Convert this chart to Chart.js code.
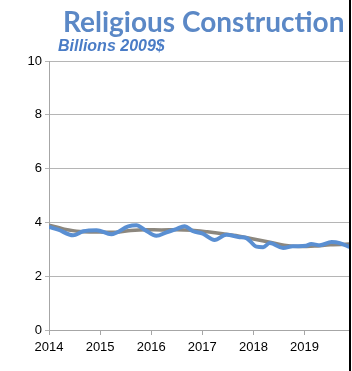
<!DOCTYPE html>
<html>
<head>
<meta charset="utf-8">
<script src="https://cdn.jsdelivr.net/npm/chart.js@4.4.1/dist/chart.umd.min.js"></script>
<style>
  html, body { margin: 0; padding: 0; background: #fff; }
  #wrap { position: relative; width: 352px; height: 371px; overflow: hidden; background: #fff; }
  #c { position: absolute; left: 0; top: 0; }
  .title { position: absolute; left: 63px; top: 4px; font-family: Lato, "Open Sans", sans-serif; font-weight: 700; font-size: 28px; line-height: 34px; color: #5b88c6; white-space: nowrap; }
  .sub { position: absolute; left: 58px; top: 36px; font-family: "Liberation Sans", Arial, sans-serif; font-weight: 700; font-style: italic; font-size: 16px; line-height: 20px; color: #4a7cc6; white-space: nowrap; }
  #edge { position: absolute; left: 349px; top: 0; width: 2px; height: 371px; background: #000; }
</style>
</head>
<body>
<div id="wrap">
  <canvas id="c" width="352" height="371"></canvas>
  <div class="title">Religious Construction</div>
  <div class="sub">Billions 2009$</div>
  <div id="edge"></div>
</div>
<script>
const titleText = "Religious Construction";
const subtitleText = "Billions 2009$";
const yTicks = [0, 2, 4, 6, 8, 10];
const xYears = [2014, 2015, 2016, 2017, 2018, 2019, 2020];

const spendingX = [2014.00, 2014.18, 2014.47, 2014.67, 2014.93, 2015.22, 2015.55, 2015.71, 2015.87, 2016.10, 2016.30, 2016.49, 2016.65, 2016.82, 2017.01, 2017.24, 2017.47, 2017.73, 2017.86, 2018.06, 2018.19, 2018.32, 2018.58, 2018.77, 2019.03, 2019.13, 2019.30, 2019.53, 2019.69, 2019.85, 2019.95];
const spendingY = [3.83, 3.73, 3.52, 3.67, 3.71, 3.56, 3.85, 3.89, 3.73, 3.50, 3.63, 3.75, 3.86, 3.67, 3.58, 3.35, 3.54, 3.45, 3.42, 3.10, 3.08, 3.23, 3.05, 3.11, 3.13, 3.20, 3.15, 3.27, 3.23, 3.11, 3.05];

const trendX = [2014.0, 2014.3, 2014.6, 2015.0, 2015.3, 2015.6, 2015.9, 2016.2, 2016.5, 2016.8, 2017.1, 2017.4, 2017.7, 2018.0, 2018.3, 2018.6, 2018.9, 2019.2, 2019.5, 2019.95];
const trendY = [3.90, 3.75, 3.66, 3.64, 3.63, 3.70, 3.73, 3.72, 3.73, 3.71, 3.65, 3.58, 3.50, 3.38, 3.27, 3.15, 3.10, 3.12, 3.17, 3.20];

const toPts = (xs, ys) => xs.map((x, i) => ({ x: x, y: ys[i] }));

new Chart(document.getElementById('c'), {
  type: 'line',
  data: {
    datasets: [
      { data: toPts(spendingX, spendingY), borderColor: '#5a8fd2', borderWidth: 4, pointRadius: 0, tension: 0.4, cubicInterpolationMode: 'monotone', order: 0 },
      { data: toPts(trendX, trendY), borderColor: '#8c877e', borderWidth: 3.5, pointRadius: 0, tension: 0.4, cubicInterpolationMode: 'monotone', order: 1 }
    ]
  },
  options: {
    responsive: false,
    animation: false,
    events: [],
    layout: { padding: { top: 61, right: 3, left: 0, bottom: 0 } },
    plugins: { legend: { display: false }, tooltip: { enabled: false }, title: { display: false } },
    scales: {
      x: {
        type: 'linear',
        min: xYears[0],
        max: 2019.87,
        afterFit: s => { s.height = 41; },
        ticks: {
          stepSize: 0.5,
          includeBounds: false,
          autoSkip: false,
          maxRotation: 0,
          padding: 5,
          color: '#000',
          font: { family: '"Liberation Sans", Arial, sans-serif', size: 13 },
          callback: v => (xYears.includes(v) ? String(v) : null)
        },
        grid: { drawOnChartArea: false, drawTicks: true, tickLength: 5, color: '#a6a6a6' },
        border: { display: true, color: '#a6a6a6', width: 1 }
      },
      y: {
        min: yTicks[0],
        max: yTicks[yTicks.length - 1],
        afterFit: s => { s.width = 49; },
        ticks: {
          stepSize: 2,
          padding: 3,
          color: '#000',
          font: { family: '"Liberation Sans", Arial, sans-serif', size: 13 }
        },
        grid: { color: '#b5b5b5', tickLength: 4, lineWidth: 1 },
        border: { display: true, color: '#a6a6a6', width: 1 }
      }
    }
  }
});
</script>
</body>
</html>
